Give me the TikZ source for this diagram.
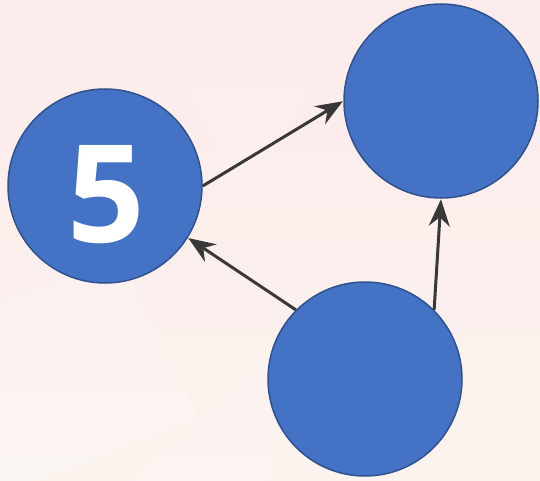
\documentclass[tikz,border=0pt]{standalone}
\usepackage{fontspec}
\setmainfont{Open Sans}
\usetikzlibrary{arrows.meta}
\definecolor{nodefill}{HTML}{4472C4}
\definecolor{nodeedge}{HTML}{2F528F}
\definecolor{arrowcol}{HTML}{383838}
\definecolor{bgtop}{HTML}{FCEBEB}
\definecolor{bgbot}{HTML}{FBF3EE}
\tikzset{
  bubble/.style={circle, fill=nodefill, draw=nodeedge, line width=1.5pt, inner sep=0pt, minimum size=194pt},
  bignum/.style={text=white, font=\fontsize{136}{136}\selectfont\bfseries, inner sep=0pt},
  link/.style={draw=arrowcol, line width=3pt, -{Stealth[length=27pt, width=21pt, inset=9pt]}, shorten >=0.5pt}
}
\begin{document}
\begin{tikzpicture}[x=1pt, y=-1pt]
\shade[top color=bgtop, bottom color=bgbot] (0,0) rectangle (540,481);
\fill[white, opacity=0.18] (0,300) -- (120,260) -- (200,420) -- (40,481) -- (0,481) -- cycle;
\fill[white, opacity=0.12] (200,420) -- (300,330) -- (270,481) -- (130,481) -- cycle;
\fill[white, opacity=0.10] (150,0) -- (330,60) -- (240,200) -- cycle;
\useasboundingbox (0,0) rectangle (540,481);
\node[bubble, label={[bignum, yshift=-9pt, xshift=1pt]center:5}] (five) at (105,186) {};
\node[bubble] (top) at (441,101) {};
\node[bubble] (bot) at (365,379) {};
\draw[link] (five.east) -- (top.west);
\draw[link] (bot.north west) -- (five.-32);
\draw[link] (bot.north east) -- (top.south);
\end{tikzpicture}
\end{document}
